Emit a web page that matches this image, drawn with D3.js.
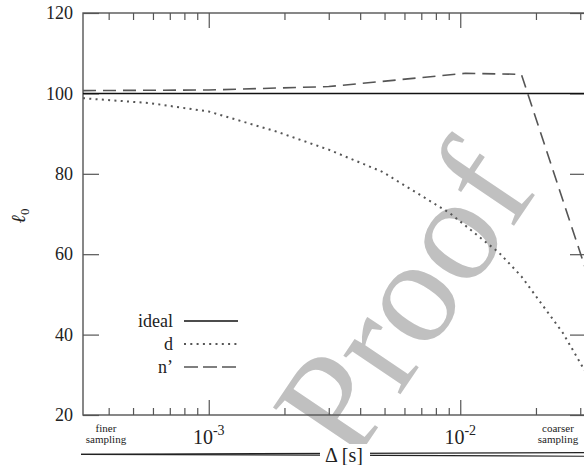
<!DOCTYPE html>
<html>
<head>
<meta charset="utf-8">
<script src="https://cdn.jsdelivr.net/npm/d3@7"></script>
<style>
  body { margin: 0; background: #fff; }
  text { font-family: "Liberation Serif", "DejaVu Serif", serif; fill: #222; }
</style>
</head>
<body>
<div id="chart"></div>
<script>
// data
var deltaIdeal = [3.162e-4, 3.162e-2];
var idealValues = [100, 100];

var deltaD = [3.162e-4, 5.8e-4, 1.0e-3, 1.86e-3, 3.0e-3, 4.9e-3, 9.1e-3, 1.43e-2, 1.75e-2, 2.56e-2, 3.162e-2];
var dValues = [98.8, 97.6, 95.5, 90.5, 86.0, 80.5, 70.2, 60.3, 54.5, 40.4, 30.5];

var deltaN = [3.162e-4, 1.0e-3, 3.0e-3, 1.05e-2, 1.75e-2, 3.162e-2];
var nValues = [100.7, 100.85, 101.7, 105.0, 104.75, 56.0];

var yTicks = [20, 40, 60, 80, 100, 120];
var xMajorTicks = [1e-3, 1e-2];
var xMinorTicks = [4e-4, 5e-4, 6e-4, 7e-4, 8e-4, 9e-4,
    2e-3, 3e-3, 4e-3, 5e-3, 6e-3, 7e-3, 8e-3, 9e-3, 2e-2, 3e-2];
var xTickExponents = ["-3", "-2"];
var legendNames = ["ideal", "d", "n\u2019"];

// set up svg
var svgWidth = 584;
var svgHeight = 465;

var margin = { top: 13, right: -2, bottom: 50, left: 83 };
var width = svgWidth - margin.left - margin.right;
var height = svgHeight - margin.top - margin.bottom;

var svg = d3.select("#chart")
    .append("svg")
    .attr("width", svgWidth)
    .attr("height", svgHeight);

// watermark behind everything
svg.append("text")
    .attr("transform", "translate(352,466) rotate(-56)")
    .style("font-family", "Liberation Serif")
    .style("font-size", "150px")
    .style("fill", "#c0c0c0")
    .text("Proof");

var chartGroup = svg.append("g")
    .attr("transform", `translate(${margin.left}, ${margin.top})`);

var xScale = d3.scaleLog()
    .domain([Math.pow(10, -3.5), Math.pow(10, -1.5)])
    .range([0, width]);

var yScale = d3.scaleLinear()
    .domain([20, 120])
    .range([height, 0]);

var axisColor = "#555";

// ticks
function styleAxis(g) {
    g.select(".domain").remove();
    g.attr("font-family", null);
    g.selectAll(".tick line").attr("stroke", axisColor).attr("stroke-width", 1.2);
}

chartGroup.append("g")
    .attr("transform", `translate(0, ${height})`)
    .call(d3.axisBottom(xScale).tickValues(xMinorTicks).tickSize(-7).tickFormat(""))
    .call(styleAxis);
chartGroup.append("g")
    .attr("transform", `translate(0, ${height})`)
    .call(d3.axisBottom(xScale).tickValues(xMajorTicks).tickSize(-15).tickFormat(""))
    .call(styleAxis);
chartGroup.append("g")
    .call(d3.axisTop(xScale).tickValues(xMinorTicks).tickSize(-7).tickFormat(""))
    .call(styleAxis);
chartGroup.append("g")
    .call(d3.axisTop(xScale).tickValues(xMajorTicks).tickSize(-15).tickFormat(""))
    .call(styleAxis);

var leftAxis = chartGroup.append("g")
    .call(d3.axisLeft(yScale).tickValues(yTicks).tickSize(-16).tickPadding(10))
    .call(styleAxis);
leftAxis.selectAll(".tick text")
    .style("font-size", "18px")
    .style("font-family", "Liberation Serif")
    .attr("fill", "#222")
    .attr("x", -10);

chartGroup.append("g")
    .attr("transform", `translate(${width}, 0)`)
    .call(d3.axisRight(yScale).tickValues(yTicks).tickSize(-16).tickFormat(""))
    .call(styleAxis);

// frame
chartGroup.append("rect")
    .attr("width", width)
    .attr("height", height)
    .attr("fill", "none")
    .attr("stroke", axisColor)
    .attr("stroke-width", 1.4);

// x tick labels 10^-3, 10^-2
xMajorTicks.forEach(function (v, i) {
    var t = chartGroup.append("text")
        .attr("x", xScale(v))
        .attr("y", height + 29)
        .attr("text-anchor", "middle")
        .style("font-size", "20px");
    t.append("tspan").text("10");
    t.append("tspan")
        .attr("dy", -9)
        .style("font-size", "14px")
        .text(xTickExponents[i]);
});

// lines
var line = d3.line()
    .x(d => xScale(d[0]))
    .y(d => yScale(d[1]));

chartGroup.append("path")
    .datum(d3.zip(deltaIdeal, idealValues))
    .attr("d", line)
    .attr("fill", "none")
    .attr("stroke", "#111")
    .attr("stroke-width", 1.5);

chartGroup.append("path")
    .datum(d3.zip(deltaD, dValues))
    .attr("d", line)
    .attr("fill", "none")
    .attr("stroke", "#555")
    .attr("stroke-width", 2)
    .attr("stroke-dasharray", "2,4.3");

chartGroup.append("path")
    .datum(d3.zip(deltaN, nValues))
    .attr("d", line)
    .attr("fill", "none")
    .attr("stroke", "#555")
    .attr("stroke-width", 1.6)
    .attr("stroke-dasharray", "13,7");

// legend
var legendStyles = [
    { stroke: "#111", width: 1.5, dash: null },
    { stroke: "#555", width: 2, dash: "2,4.3" },
    { stroke: "#555", width: 1.6, dash: "14,5" }
];
legendNames.forEach(function (name, i) {
    var yy = 308 + i * 23;
    chartGroup.append("text")
        .attr("x", 173 - margin.left)
        .attr("y", yy + 6)
        .attr("text-anchor", "end")
        .style("font-size", "18px")
        .text(name);
    chartGroup.append("line")
        .attr("x1", 184 - margin.left)
        .attr("x2", 238 - margin.left)
        .attr("y1", yy)
        .attr("y2", yy)
        .attr("stroke", legendStyles[i].stroke)
        .attr("stroke-width", legendStyles[i].width)
        .attr("stroke-dasharray", legendStyles[i].dash);
});

// y axis label
var yLabel = svg.append("text")
    .attr("transform", "translate(25, 216) rotate(-90)")
    .attr("text-anchor", "middle")
    .style("font-size", "20px");
yLabel.append("tspan").style("font-style", "italic").text("\u2113");
yLabel.append("tspan").attr("dy", 4).style("font-size", "13px").text("0");

// finer / coarser sampling notes
[["finer", "sampling", 106], ["coarser", "sampling", 558]].forEach(function (n) {
    svg.append("text")
        .attr("x", n[2]).attr("y", 432)
        .attr("text-anchor", "middle")
        .style("font-size", "11px")
        .text(n[0]);
    svg.append("text")
        .attr("x", n[2]).attr("y", 443)
        .attr("text-anchor", "middle")
        .style("font-size", "11px")
        .text(n[1]);
});

// long wedge arrow along the bottom, broken by the axis title
var arrow = svg.append("g").attr("stroke", "#222").attr("stroke-width", 1.2);
arrow.append("line").attr("x1", 81).attr("y1", 454.3).attr("x2", 600).attr("y2", 452.5);
arrow.append("line").attr("x1", 81).attr("y1", 454.3).attr("x2", 600).attr("y2", 456.3);
svg.append("rect")
    .attr("x", 320).attr("y", 444)
    .attr("width", 50).attr("height", 21)
    .attr("fill", "#fff");
svg.append("text")
    .attr("x", 344)
    .attr("y", 462)
    .attr("text-anchor", "middle")
    .style("font-size", "20px")
    .text("\u0394 [s]");
</script>
</body>
</html>
